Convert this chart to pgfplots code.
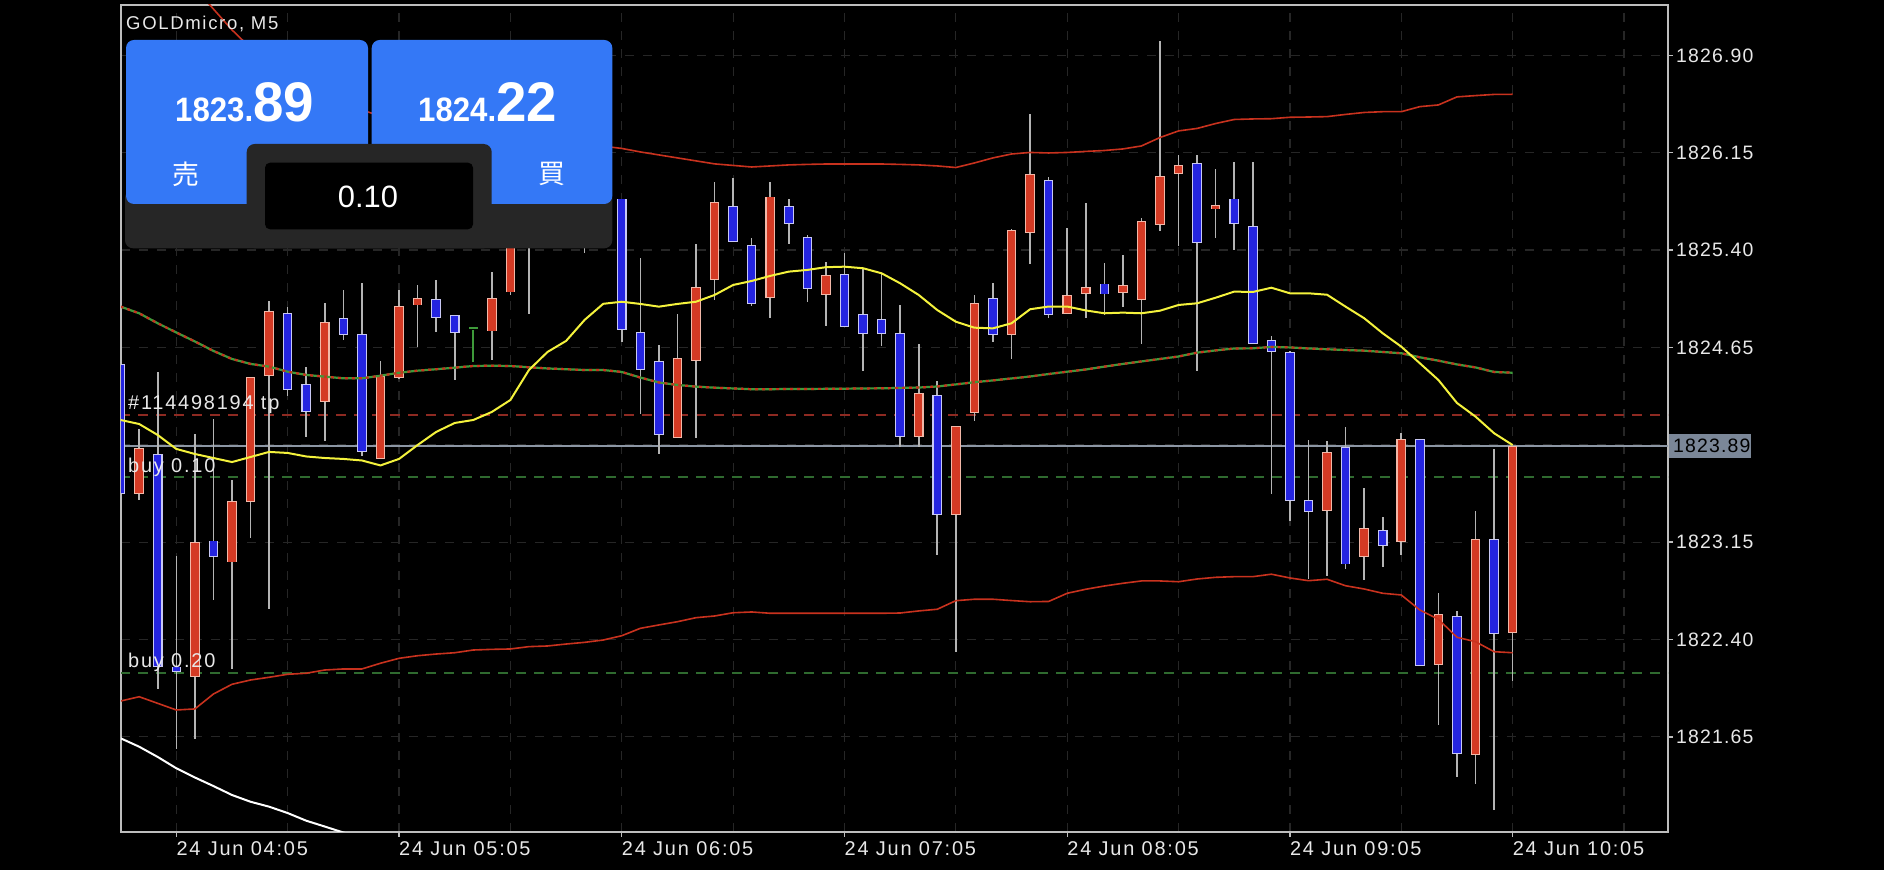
\documentclass[border=0pt]{standalone}
\usepackage{pgfplots}
\pgfplotsset{compat=1.18}
\usepackage{pgfplotstable}
\usepackage{fontspec}
\setmainfont{Liberation Sans}
\newfontfamily\tickfont[LetterSpace=9]{Liberation Sans}
\newfontfamily\tagfont[LetterSpace=6]{Liberation Sans}
\newfontfamily\pricefont[FakeStretch=0.92]{Liberation Sans}
\newfontfamily\bigfont[FakeStretch=0.98]{Liberation Sans}
\newfontfamily\cjk{Noto Sans CJK JP}

\definecolor{upred}{HTML}{D43A24}
\definecolor{upedge}{HTML}{F2B8A8}
\definecolor{dnblue}{HTML}{2424E0}
\definecolor{dnedge}{HTML}{C8C8F4}
\definecolor{wick}{HTML}{B4B4B4}
\definecolor{gridc}{HTML}{262626}
\definecolor{framec}{HTML}{BDBDBD}
\definecolor{bbred}{HTML}{C8321E}
\definecolor{magreen}{HTML}{3E9A3A}
\definecolor{mayellow}{HTML}{F4F23C}
\definecolor{tpred}{HTML}{8E2A22}
\definecolor{buygreen}{HTML}{2F6A2F}
\definecolor{bidline}{HTML}{8C96A4}
\definecolor{pricebox}{HTML}{7B8798}
\definecolor{btnblue}{HTML}{3478F6}
\definecolor{panelgray}{HTML}{262626}
\definecolor{txt}{HTML}{E8E8E8}

\newcommand\tickfnt{\tickfont\fontsize{20}{24}\selectfont}
\newcommand\ytickfnt{\tagfont\fontsize{19.5}{24}\selectfont}

% 5-minute candles, x = bar index (0 = 24 Jun 04:05)
\pgfplotstableread{
x o h l c
-2 1823.53 1824.03 1823.48 1823.87
1 1822.13 1823.99 1821.64 1823.16
3 1823.00 1823.64 1822.18 1823.46
4 1823.48 1824.44 1823.20 1824.43
5 1824.45 1825.02 1822.65 1824.93
8 1824.25 1825.00 1823.94 1824.85
11 1823.81 1824.55 1823.80 1824.43
12 1824.43 1825.11 1824.42 1824.97
13 1824.98 1825.13 1824.65 1825.02
17 1824.80 1825.23 1824.55 1825.04
18 1825.08 1826.05 1825.06 1825.90
20 1825.55 1826.20 1825.50 1825.95
21 1825.95 1826.45 1825.80 1826.30
23 1825.70 1826.00 1825.55 1825.80
27 1823.97 1824.91 1823.96 1824.57
28 1824.56 1825.47 1823.97 1825.11
29 1825.19 1825.93 1825.02 1825.77
32 1825.04 1825.92 1824.87 1825.81
35 1825.07 1825.31 1824.82 1825.21
40 1823.97 1824.69 1823.89 1824.29
42 1823.37 1824.05 1822.31 1824.04
43 1824.16 1825.06 1824.09 1824.99
45 1824.76 1825.57 1824.57 1825.56
46 1825.54 1826.45 1825.30 1825.98
48 1824.93 1825.58 1824.92 1825.06
49 1825.08 1825.76 1824.88 1825.12
51 1825.09 1825.37 1824.97 1825.14
52 1825.03 1825.66 1824.69 1825.62
53 1825.61 1827.01 1825.55 1825.97
54 1826.00 1826.13 1825.43 1826.06
56 1825.73 1826.03 1825.50 1825.75
62 1823.41 1823.94 1822.90 1823.85
64 1823.05 1823.58 1822.87 1823.26
66 1823.17 1824.00 1823.06 1823.95
68 1822.22 1822.77 1821.75 1822.60
70 1821.53 1823.40 1821.30 1823.18
72 1822.46 1823.89 1822.09 1823.89
}\upcandles

\pgfplotstableread{
x o h l c
-3 1824.52 1824.55 1823.50 1823.53
-1 1823.83 1824.47 1822.03 1822.20
0 1822.19 1823.05 1821.56 1822.16
2 1823.16 1824.10 1822.71 1823.05
6 1824.91 1824.97 1824.28 1824.33
7 1824.37 1824.51 1823.97 1824.17
9 1824.88 1825.11 1824.73 1824.76
10 1824.75 1825.16 1823.82 1823.86
14 1825.03 1825.18 1824.78 1824.90
15 1824.90 1824.91 1824.41 1824.78
19 1825.90 1826.10 1824.92 1825.55
22 1826.30 1826.40 1825.39 1825.70
24 1825.79 1825.80 1824.71 1824.79
25 1824.77 1825.34 1824.14 1824.49
26 1824.55 1824.68 1823.84 1824.00
30 1825.75 1825.97 1825.48 1825.49
31 1825.44 1825.49 1824.97 1825.00
33 1825.73 1825.81 1825.46 1825.61
34 1825.51 1825.52 1825.00 1825.12
36 1825.21 1825.38 1824.81 1824.82
37 1824.91 1825.26 1824.47 1824.77
38 1824.87 1825.23 1824.67 1824.77
39 1824.76 1824.98 1823.89 1823.97
41 1824.29 1824.39 1823.05 1823.38
44 1825.03 1825.16 1824.71 1824.76
47 1825.95 1825.98 1824.89 1824.92
50 1825.14 1825.31 1824.91 1825.07
55 1826.07 1826.15 1824.48 1825.47
57 1825.79 1826.09 1825.41 1825.61
58 1825.59 1826.08 1824.69 1824.70
59 1824.71 1824.75 1823.53 1824.63
60 1824.61 1824.63 1823.32 1823.48
61 1823.47 1823.94 1822.87 1823.39
63 1823.87 1824.04 1822.95 1822.98
65 1823.25 1823.35 1822.96 1823.14
67 1823.95 1823.96 1822.21 1822.22
69 1822.58 1822.63 1821.35 1821.53
71 1823.18 1823.87 1821.09 1822.46
}\dncandles

\pgfplotstableread{
x o h l c
16 1824.80 1824.80 1824.55 1824.80
}\dojis

% indicators: ma = yellow MA, mid/up/lo = Bollinger bands
\pgfplotstableread{
x ma mid up lo
-3 1824.091 1824.964 1828.020 1821.926
-2 1824.060 1824.913 1827.866 1821.959
-1 1823.975 1824.836 1827.712 1821.908
0 1823.868 1824.765 1827.581 1821.857
1 1823.829 1824.696 1827.419 1821.865
2 1823.798 1824.623 1827.257 1821.980
3 1823.767 1824.561 1827.096 1822.055
4 1823.806 1824.523 1826.957 1822.088
5 1823.845 1824.502 1826.849 1822.109
6 1823.837 1824.463 1826.749 1822.132
7 1823.810 1824.438 1826.664 1822.140
8 1823.798 1824.425 1826.587 1822.165
9 1823.791 1824.412 1826.526 1822.173
10 1823.779 1824.412 1826.479 1822.173
11 1823.741 1824.432 1826.433 1822.217
12 1823.791 1824.455 1826.402 1822.255
13 1823.898 1824.471 1826.372 1822.275
14 1823.999 1824.482 1826.348 1822.288
15 1824.068 1824.494 1826.325 1822.298
16 1824.091 1824.507 1826.310 1822.319
17 1824.153 1824.509 1826.294 1822.324
18 1824.245 1824.507 1826.279 1822.327
19 1824.476 1824.497 1826.264 1822.345
20 1824.615 1824.488 1826.248 1822.350
21 1824.700 1824.482 1826.233 1822.365
22 1824.862 1824.476 1826.218 1822.378
23 1824.986 1824.476 1826.200 1822.396
24 1825.002 1824.461 1826.183 1822.429
25 1824.985 1824.418 1826.156 1822.486
26 1824.964 1824.380 1826.133 1822.512
27 1824.985 1824.361 1826.110 1822.537
28 1825.002 1824.348 1826.087 1822.568
29 1825.054 1824.340 1826.064 1822.581
30 1825.131 1824.334 1826.052 1822.606
31 1825.162 1824.328 1826.040 1822.612
32 1825.201 1824.328 1826.048 1822.602
33 1825.234 1824.330 1826.056 1822.602
34 1825.247 1824.330 1826.060 1822.602
35 1825.268 1824.331 1826.063 1822.602
36 1825.272 1824.332 1826.063 1822.602
37 1825.260 1824.334 1826.063 1822.602
38 1825.221 1824.335 1826.063 1822.602
39 1825.144 1824.338 1826.060 1822.604
40 1825.054 1824.341 1826.056 1822.620
41 1824.938 1824.349 1826.048 1822.633
42 1824.848 1824.365 1826.036 1822.699
43 1824.802 1824.382 1826.071 1822.710
44 1824.797 1824.396 1826.110 1822.710
45 1824.836 1824.411 1826.140 1822.700
46 1824.944 1824.426 1826.152 1822.691
47 1824.965 1824.445 1826.148 1822.693
48 1824.965 1824.463 1826.152 1822.756
49 1824.935 1824.480 1826.160 1822.787
50 1824.913 1824.502 1826.167 1822.812
51 1824.918 1824.523 1826.179 1822.833
52 1824.913 1824.542 1826.202 1822.851
53 1824.933 1824.561 1826.267 1822.851
54 1824.977 1824.580 1826.318 1822.845
55 1824.990 1824.610 1826.337 1822.866
56 1825.033 1824.627 1826.375 1822.879
57 1825.080 1824.642 1826.406 1822.884
58 1825.077 1824.643 1826.410 1822.884
59 1825.110 1824.654 1826.412 1822.903
60 1825.067 1824.650 1826.423 1822.874
61 1825.067 1824.642 1826.425 1822.853
62 1825.056 1824.636 1826.428 1822.864
63 1824.964 1824.630 1826.445 1822.814
64 1824.875 1824.625 1826.460 1822.789
65 1824.759 1824.615 1826.466 1822.756
66 1824.656 1824.605 1826.466 1822.743
67 1824.528 1824.574 1826.505 1822.627
68 1824.399 1824.548 1826.518 1822.556
69 1824.222 1824.519 1826.580 1822.417
70 1824.117 1824.496 1826.590 1822.383
71 1823.989 1824.461 1826.599 1822.306
72 1823.898 1824.455 1826.600 1822.298
}\ind

\pgfplotstableread{
x w
-3 1821.639
-2 1821.574
-1 1821.495
0 1821.408
1 1821.337
2 1821.271
3 1821.202
4 1821.150
5 1821.112
6 1821.063
7 1821.004
8 1820.959
9 1820.913
10 1820.871
11 1820.832
}\whiteline

\begin{document}
\begin{tikzpicture}[x=1bp,y=1bp]
\useasboundingbox (0,0) rectangle (1884,870);
\fill[black] (0,0) rectangle (1884,870);

\begin{axis}[
    at={(121bp,38bp)}, anchor=south west,
    width=1547bp, height=827bp, scale only axis,
    xmin=-2.98, xmax=80.37,
    ymin=1820.917, ymax=1827.288,
    axis line style={draw=framec, line width=1.3bp},
    xtick={0,12,...,72},
    minor xtick={6,18,...,78},
    xticklabels={24 Jun 04:05,24 Jun 05:05,24 Jun 06:05,24 Jun 07:05,24 Jun 08:05,24 Jun 09:05,24 Jun 10:05},
    ytick={1821.65,1822.40,1823.15,1823.90,1824.65,1825.40,1826.15,1826.90},
    yticklabels={1821.65,1822.40,1823.15,,1824.65,1825.40,1826.15,1826.90},
    xtick pos=bottom, ytick pos=right, yticklabel pos=right,
    tick align=outside,
    major tick length=5bp, minor tick length=0bp,
    tick style={draw=framec, line width=1.3bp},
    xmajorgrids, xminorgrids, ymajorgrids,
    major grid style={draw=gridc, line width=1.2bp, dash pattern=on 9bp off 9bp},
    minor grid style={draw=gridc, line width=1.2bp, dash pattern=on 9bp off 9bp},
    xticklabel style={anchor=north west, inner sep=0pt, font=\tickfnt, text=txt, yshift=-4bp},
    yticklabel style={anchor=west, inner sep=0pt, font=\ytickfnt, text=txt, xshift=3bp},
  ]

  % trade levels and bid
  \addplot[tpred, line width=1.5bp, dash pattern=on 10bp off 8bp] coordinates {(-4,1824.13) (82,1824.13)};
  \addplot[buygreen, line width=1.5bp, dash pattern=on 10bp off 8bp] coordinates {(-4,1823.65) (82,1823.65)};
  \addplot[buygreen, line width=1.5bp, dash pattern=on 10bp off 8bp] coordinates {(-4,1822.14) (82,1822.14)};
  \addplot[bidline, line width=1.5bp] coordinates {(-4,1823.89) (82,1823.89)};

  % wicks
  \addplot[draw=none, mark=none, error bars/.cd, y dir=both, y explicit, error mark=none,
    error bar style={draw=wick, line width=1.6bp}]
    table[x=x, y expr={(\thisrow{h}+\thisrow{l})/2}, y error expr={(\thisrow{h}-\thisrow{l})/2}] {\upcandles};
  \addplot[draw=none, mark=none, error bars/.cd, y dir=both, y explicit, error mark=none,
    error bar style={draw=wick, line width=1.6bp}]
    table[x=x, y expr={(\thisrow{h}+\thisrow{l})/2}, y error expr={(\thisrow{h}-\thisrow{l})/2}] {\dncandles};
  \addplot[draw=none, mark=none, error bars/.cd, y dir=both, y explicit, error mark=none,
    error bar style={draw=magreen, line width=1.6bp}]
    table[x=x, y expr={(\thisrow{h}+\thisrow{l})/2}, y error expr={(\thisrow{h}-\thisrow{l})/2}] {\dojis};

  % bodies: light edge, then fill
  \addplot[draw=none, mark=none, error bars/.cd, y dir=both, y explicit, error mark=none,
    error bar style={draw=upedge, line width=9.6bp}]
    table[x=x, y expr={(\thisrow{o}+\thisrow{c})/2}, y error expr={abs(\thisrow{o}-\thisrow{c})/2+0.007}] {\upcandles};
  \addplot[draw=none, mark=none, error bars/.cd, y dir=both, y explicit, error mark=none,
    error bar style={draw=upred, line width=7.4bp}]
    table[x=x, y expr={(\thisrow{o}+\thisrow{c})/2}, y error expr={abs(\thisrow{o}-\thisrow{c})/2}] {\upcandles};
  \addplot[draw=none, mark=none, error bars/.cd, y dir=both, y explicit, error mark=none,
    error bar style={draw=dnedge, line width=9.6bp}]
    table[x=x, y expr={(\thisrow{o}+\thisrow{c})/2}, y error expr={abs(\thisrow{o}-\thisrow{c})/2+0.007}] {\dncandles};
  \addplot[draw=none, mark=none, error bars/.cd, y dir=both, y explicit, error mark=none,
    error bar style={draw=dnblue, line width=7.4bp}]
    table[x=x, y expr={(\thisrow{o}+\thisrow{c})/2}, y error expr={abs(\thisrow{o}-\thisrow{c})/2}] {\dncandles};
  \addplot[draw=none, mark=none, error bars/.cd, y dir=both, y explicit, error mark=none,
    error bar style={draw=magreen, line width=9bp}]
    table[x=x, y expr={(\thisrow{o}+\thisrow{c})/2}, y error expr={abs(\thisrow{o}-\thisrow{c})/2+0.007}] {\dojis};

  % indicators
  \addplot[bbred, line width=1.6bp, line join=round] table[x=x, y=up] {\ind};
  \addplot[bbred, line width=1.6bp, line join=round] table[x=x, y=lo] {\ind};
  \addplot[magreen, line width=2.2bp, line join=round] table[x=x, y=mid] {\ind};
  \addplot[bbred, line width=2.2bp, dash pattern=on 3bp off 4bp] table[x=x, y=mid] {\ind};
  \addplot[mayellow, line width=2bp, line join=round] table[x=x, y=ma] {\ind};
  \addplot[white, line width=2bp, line join=round] table[x=x, y=w] {\whiteline};
\end{axis}

% current bid tag
\fill[pricebox] (1669,412) rectangle (1751,436);
\node[anchor=west, inner sep=0pt, font=\ytickfnt, text=black] at (1673,424) {1823.89};

% chart annotations
\node[anchor=base west, inner sep=0pt, text=txt, font=\tickfont\fontsize{18.6}{22}\selectfont] at (126,840.7) {GOLDmicro, M5};
\node[anchor=base west, inner sep=0pt, text=txt, font=\tickfnt] at (128,460.7) {\#114498194 tp};
\node[anchor=base west, inner sep=0pt, text=txt, font=\tickfnt] at (128,397.3) {buy 0.10};
\node[anchor=base west, inner sep=0pt, text=txt, font=\tickfnt] at (128,202.3) {buy 0.20};

% one-click trading panel
\fill[panelgray, rounded corners=8bp] (125,621.7) rectangle (612.3,680);
\fill[btnblue, rounded corners=8bp] (126,666) rectangle (368,830);
\fill[btnblue, rounded corners=8bp] (371.7,666) rectangle (612.3,830);
\fill[panelgray, rounded corners=8bp] (246.7,621.7) rectangle (491.7,726);
\fill[black, rounded corners=5bp] (265,640.7) rectangle (473,707.3);

\node[anchor=base west, inner sep=0pt, text=white, font=\pricefont\bfseries\fontsize{34}{38}\selectfont] at (175,748.3) {1823.};
\node[anchor=base west, inner sep=0pt, text=white, font=\bigfont\bfseries\fontsize{56}{60}\selectfont] at (253,748.3) {89};
\node[anchor=base west, inner sep=0pt, text=white, font=\pricefont\bfseries\fontsize{34}{38}\selectfont] at (418,748.3) {1824.};
\node[anchor=base west, inner sep=0pt, text=white, font=\bigfont\bfseries\fontsize{56}{60}\selectfont] at (496,748.3) {22};
\node[text=white, inner sep=0pt, font=\cjk\fontsize{27}{30}\selectfont] at (185.7,696) {売};
\node[text=white, inner sep=0pt, font=\cjk\fontsize{27}{30}\selectfont] at (551.7,696) {買};
\node[text=white, inner sep=0pt, font=\fontsize{31}{34}\selectfont] at (368,673.3) {0.10};
\end{tikzpicture}
\end{document}
